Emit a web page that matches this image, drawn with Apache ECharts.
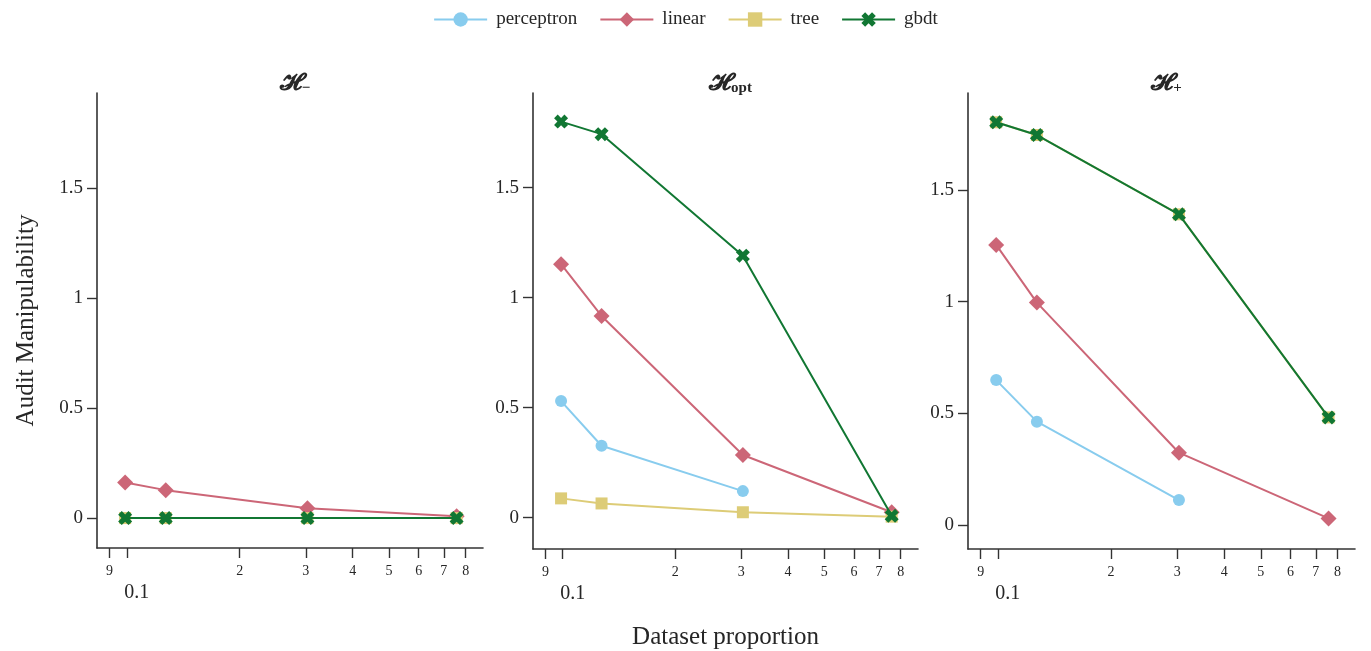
<!DOCTYPE html>
<html><head><meta charset="utf-8">
<script src="https://cdn.jsdelivr.net/npm/echarts@6/dist/echarts.min.js"></script>
<style>html,body{margin:0;padding:0;background:#fff}#c{width:1371px;height:651px}</style>
</head><body><div id="c"></div>
<script>
// ---- data ----
const proportions = [0.099, 0.127, 0.303, 0.757];
const xTickValues = [0.09, 0.1, 0.2, 0.3, 0.4, 0.5, 0.6, 0.7, 0.8];
const xTickLabels = ['9', '0.1', '2', '3', '4', '5', '6', '7', '8'];
const yTickValues = [0, 0.5, 1, 1.5];
const modelNames = ['perceptron', 'linear', 'tree', 'gbdt'];
const panelSubscripts = ['−', 'opt', '+'];

// H-minus panel
const minusPerceptron = [0, 0, 0];
const minusLinear = [0.162, 0.127, 0.045, 0.008];
const minusTree = [0, 0, 0, 0];
const minusGbdt = [0, 0, 0, 0];
// H-opt panel
const optPerceptron = [0.530, 0.327, 0.121];
const optLinear = [1.152, 0.917, 0.285, 0.025];
const optTree = [0.088, 0.065, 0.025, 0.005];
const optGbdt = [1.800, 1.743, 1.191, 0.009];
// H-plus panel
const plusPerceptron = [0.649, 0.463, 0.112];
const plusLinear = [1.254, 0.996, 0.324, 0.030];
const plusTree = [1.803, 1.746, 1.391, 0.482];
const plusGbdt = [1.803, 1.746, 1.391, 0.482];

const panelData = [
  [minusPerceptron, minusLinear, minusTree, minusGbdt],
  [optPerceptron, optLinear, optTree, optGbdt],
  [plusPerceptron, plusLinear, plusTree, plusGbdt]
];

// ---- style ----
const colors = ['#88CCEE', '#CC6677', '#DDCC77', '#117733'];
const xPath = 'path://M2.6 0L5 2.4L7.4 0L10 2.6L7.6 5L10 7.4L7.4 10L5 7.6L2.6 10L0 7.4L2.4 5L0 2.6Z';
const symbols = ['circle', 'diamond', 'rect', xPath];
const symbolSizes = [12, 16, 12, 14];
const serif = '"Liberation Serif", "Times New Roman", serif';
const ink = '#262626';

const grids = [
  {left: 97, width: 386, top: 93, height: 455, outerBoundsMode: 'none', containLabel: false},
  {left: 533, width: 385, top: 93, height: 456, outerBoundsMode: 'none', containLabel: false},
  {left: 968, width: 387, top: 93, height: 456, outerBoundsMode: 'none', containLabel: false}
];
const yMins = [-0.136, -0.142, -0.107];
const yMaxs = [1.932, 1.930, 1.934];

const xAxes = grids.map((g, i) => ({
  type: 'log', logBase: 10, gridIndex: i, min: 0.0833, max: 0.89,
  axisLine: {show: true, onZero: false, lineStyle: {color: '#333', width: 1.6}},
  axisTick: {show: true, length: 10, lineStyle: {color: '#333', width: 1.4}, customValues: xTickValues},
  minorTick: {show: false},
  splitLine: {show: false},
  axisLabel: {
    customValues: xTickValues, margin: 16, color: ink, fontFamily: serif,
    formatter: (v) => {
      let idx = 0, best = 1e9;
      xTickValues.forEach((t, k) => { const d = Math.abs(Math.log(t) - Math.log(v)); if (d < best) { best = d; idx = k; } });
      const lab = xTickLabels[idx];
      return lab === '0.1' ? '{maj|' + lab + '}' : '{mn|' + lab + '}';
    },
    rich: {
      mn: {fontSize: 14, fontFamily: serif, color: ink},
      maj: {fontSize: 20, fontFamily: serif, color: ink, padding: [19, 0, 0, 20]}
    }
  },
  name: i === 1 ? 'Dataset proportion' : '',
  nameLocation: 'middle', nameGap: 76,
  nameTextStyle: {fontSize: 25, fontFamily: serif, color: ink}
}));

const yAxes = grids.map((g, i) => ({
  type: 'value', gridIndex: i, min: yMins[i], max: yMaxs[i],
  axisLine: {show: true, onZero: false, lineStyle: {color: '#333', width: 1.6}},
  axisTick: {show: true, length: 10, lineStyle: {color: '#333', width: 1.4}, customValues: yTickValues},
  splitLine: {show: false},
  axisLabel: {customValues: yTickValues, margin: 14, fontSize: 19, fontFamily: serif, color: ink,
    formatter: (v) => String(v)},
  name: i === 0 ? 'Audit Manipulability' : '',
  nameLocation: 'middle', nameGap: 58,
  nameTextStyle: {fontSize: 25, fontFamily: serif, color: ink}
}));

const series = [];
panelData.forEach((models, p) => {
  models.forEach((vals, m) => {
    series.push({
      type: 'line', name: modelNames[m], xAxisIndex: p, yAxisIndex: p,
      data: vals.map((v, j) => [proportions[j], v]),
      symbol: symbols[m], symbolSize: symbolSizes[m], showAllSymbol: true,
      lineStyle: {color: colors[m], width: 2},
      itemStyle: {color: colors[m]},
      z: 2 + m, animation: false
    });
  });
});

const titles = grids.map((g, i) => ({
  text: '{h|𝓗}{s|' + panelSubscripts[i] + '}',
  left: g.left + g.width / 2, top: 66, textAlign: 'center',
  textStyle: {
    rich: {
      h: {fontSize: 24, fontWeight: 'bold', fontFamily: '"DejaVu Serif", "DejaVu Sans", serif', color: ink},
      s: {fontSize: 15, fontWeight: 'bold', fontFamily: serif, color: ink, padding: [10, 0, 0, 0]}
    }
  }
}));

const chart = echarts.init(document.getElementById('c'), null, {renderer: 'canvas'});
chart.setOption({
  animation: false,
  backgroundColor: '#fff',
  title: titles,
  legend: {
    top: 5, left: 'center', itemWidth: 53, itemHeight: 18, itemGap: 22,
    data: modelNames,
    textStyle: {fontSize: 19, fontFamily: serif, color: ink, padding: [0, 0, 0, 4]}
  },
  grid: grids,
  xAxis: xAxes,
  yAxis: yAxes,
  series: series
});
</script></body></html>
